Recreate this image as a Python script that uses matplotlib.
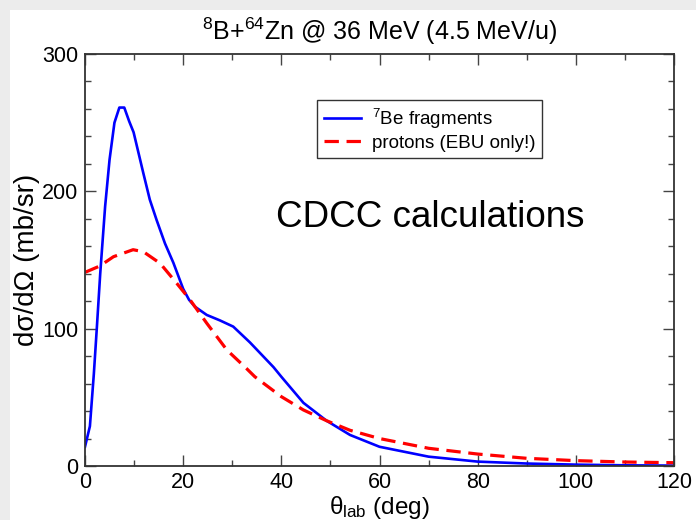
import matplotlib
matplotlib.use("Agg")
import matplotlib.pyplot as plt
from matplotlib.patches import Rectangle
from matplotlib.ticker import MultipleLocator

plt.rcParams['font.family'] = ['Liberation Sans', 'DejaVu Sans']
plt.rcParams['mathtext.fontset'] = 'custom'
plt.rcParams['mathtext.rm'] = 'Liberation Sans'
plt.rcParams['mathtext.it'] = 'Liberation Sans:italic'
plt.rcParams['mathtext.bf'] = 'Liberation Sans:bold'

# Data
theta_be = [0, 1, 1.8, 2.4, 3.1, 4.1, 5, 6, 7, 8, 9, 9.9, 11.9, 13.2, 14.6, 16.3, 18, 20,
            21.2, 22.4, 24.8, 27.5, 30.2, 33.6, 38.4, 40, 44.5, 49.2, 54, 60, 70, 80, 90,
            100, 110, 120]
xs_be = [14, 29, 67, 100, 140, 189, 223, 250, 261, 261, 251, 243, 213, 194, 179, 162, 148, 129,
         121, 116, 110, 106, 101.5, 90, 72, 65, 46, 33, 22.6, 14, 6.8, 3.2, 1.8,
         1.0, 0.5, 0.3]

theta_p = [0, 3, 5.8, 9.8, 11.9, 15.3, 18.7, 21.4, 24.8, 28.9, 32.9, 34.6, 40, 44.5, 49.2,
           54, 60, 70, 80, 90, 100, 110, 120]
xs_p = [141, 145.6, 152.4, 157.5, 156, 147.6, 133, 121, 104, 84.5, 71, 65, 50.5, 40.8, 33,
        26, 20, 12.9, 8.7, 5.6, 3.9, 2.9, 2.4]

label_be = r'$^{7}$Be fragments'
label_p = 'protons (EBU only!)'
title = r'$^{8}$B+$^{64}$Zn @ 36 MeV (4.5 MeV/u)'
xlabel = r'θ$_{\mathrm{lab}}$ (deg)'
ylabel = 'dσ/dΩ (mb/sr)'
annotation = 'CDCC calculations'

fig = plt.figure(figsize=(6.96, 5.2), dpi=100)
fig.patch.set_facecolor('#ececec')
fig.add_artist(Rectangle((10 / 696, 0), 1, 1 - 10 / 520, transform=fig.transFigure,
                         facecolor='white', edgecolor='none', zorder=-10))

ax = fig.add_axes([85 / 696, 1 - 466 / 520, (674 - 85) / 696, (466 - 54) / 520])
ax.plot(theta_be, xs_be, color='#0000ff', lw=1.9, label=label_be)
ax.plot(theta_p, xs_p, color='#ff0000', lw=2.3, ls=(0, (4.5, 2.4)), label=label_p)

ax.set_xlim(0, 120)
ax.set_ylim(0, 300)
ax.xaxis.set_major_locator(MultipleLocator(20))
ax.xaxis.set_minor_locator(MultipleLocator(10))
ax.yaxis.set_major_locator(MultipleLocator(100))
ax.yaxis.set_minor_locator(MultipleLocator(20))
ax.tick_params(which='both', direction='in', top=True, right=True, width=1.0,
               color='#444444', labelsize=15.5)
ax.tick_params(which='major', length=8, pad=4)
ax.tick_params(which='minor', length=4)
ax.tick_params(axis='y', pad=5)
for s in ax.spines.values():
    s.set_linewidth(1.3)
    s.set_color('#333333')

ax.set_title(title, fontsize=18, pad=10)
ax.set_xlabel(xlabel, fontsize=17.5, labelpad=1)
ax.set_ylabel(ylabel, fontsize=20, labelpad=1)

leg = ax.legend(loc='upper left', bbox_to_anchor=((317 - 85) / 589, (466 - 100) / 412),
                fontsize=13.5, frameon=True, fancybox=False, framealpha=1,
                edgecolor='#333333', borderpad=0.35, handlelength=2.0,
                handletextpad=0.6, labelspacing=0.2, borderaxespad=0)
leg.get_frame().set_linewidth(1.0)

ax.text(0.586, 0.604, annotation, transform=ax.transAxes, fontsize=26.5,
        ha='center', va='center')

fig.savefig('out.png', dpi=100, facecolor=fig.get_facecolor())
